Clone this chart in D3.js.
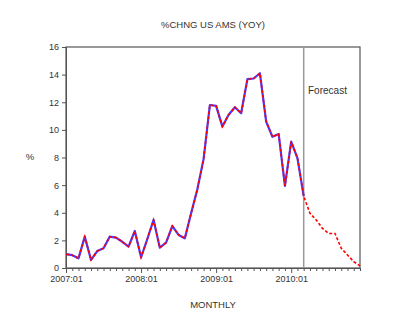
<!DOCTYPE html>
<html>
<head>
<meta charset="utf-8">
<script src="https://cdn.jsdelivr.net/npm/d3@7"></script>
<style>
  body { margin: 0; background: #fff; }
  text { font-family: "Liberation Sans", Arial, sans-serif; fill: #333; }
</style>
</head>
<body>
<div id="chart"></div>
<script>
// month index 0 = 2007:01
const actual = [1.0, 0.93, 0.7, 2.27, 0.58, 1.23, 1.43, 2.27, 2.2, 1.9, 1.55, 2.68,
  0.77, 2.1, 3.48, 1.47, 1.84, 3.04, 2.39, 2.15, 3.96, 5.7, 7.9, 11.8,
  11.74, 10.24, 11.09, 11.64, 11.2, 13.67, 13.72, 14.1, 10.6, 9.5, 9.7, 5.94,
  9.15, 7.95, 5.2];
const forecast = [5.2, 3.96, 3.48, 2.87, 2.5, 2.5, 1.43, 0.94, 0.46, 0.15];
const yTicks = [0, 2, 4, 6, 8, 10, 12, 14, 16];
const xTickLabels = ["2007:01", "2008:01", "2009:01", "2010:01"];
const forecastStart = 38;

const width = 400, height = 332;
const margin = { left: 66, right: 40, top: 47, bottom: 64 };

const svg = d3.select("#chart").append("svg")
  .attr("width", width).attr("height", height);

const x = d3.scaleLinear().domain([0, 47]).range([margin.left, width - margin.right]);
const y = d3.scaleLinear().domain([0, 16]).range([height - margin.bottom, margin.top]);

// frame
svg.append("rect")
  .attr("x", x(0)).attr("y", y(16))
  .attr("width", x(47) - x(0)).attr("height", y(0) - y(16))
  .attr("fill", "none").attr("stroke", "#555").attr("stroke-width", 1.2);

// y axis
const yAxis = svg.append("g")
  .attr("transform", `translate(${x(0)},0)`)
  .call(d3.axisLeft(y).tickValues(yTicks).tickSize(4).tickPadding(3));
yAxis.select(".domain").attr("stroke", "#555");
yAxis.selectAll("line").attr("stroke", "#555");
yAxis.selectAll("text").style("font-size", "9px").attr("fill", "#333");

// x axis with monthly ticks
const xAxis = svg.append("g")
  .attr("transform", `translate(0,${y(0)})`)
  .call(d3.axisBottom(x).tickValues(d3.range(0, 48)).tickSize(3)
    .tickFormat(d => d % 12 === 0 ? xTickLabels[d / 12] : ""));
xAxis.select(".domain").attr("stroke", "#555");
xAxis.selectAll("line").attr("stroke", "#555");
xAxis.selectAll(".tick").filter(d => d % 12 === 0).select("line").attr("y2", 5);
xAxis.selectAll("text").style("font-size", "9px").attr("fill", "#333").attr("dy", "0.9em");

// forecast divider
svg.append("line")
  .attr("x1", x(forecastStart)).attr("x2", x(forecastStart))
  .attr("y1", y(16)).attr("y2", y(0))
  .attr("stroke", "#999").attr("stroke-width", 1.5);

svg.append("text")
  .attr("x", x(41.8)).attr("y", y(12.6))
  .attr("text-anchor", "middle")
  .style("font-size", "10px")
  .text("Forecast");

const line = d3.line().x(d => x(d[0])).y(d => y(d[1]));
const actualPts = actual.map((v, i) => [i, v]);
const fcPts = forecast.map((v, i) => [forecastStart + i, v]);

svg.append("path")
  .datum(actualPts)
  .attr("d", line)
  .attr("fill", "none").attr("stroke", "#4a3cff").attr("stroke-width", 2.2)
  .attr("stroke-linejoin", "round");

svg.append("path")
  .datum(actualPts.concat(fcPts.slice(1)))
  .attr("d", line)
  .attr("fill", "none").attr("stroke", "#ff0000").attr("stroke-width", 1.6)
  .attr("stroke-dasharray", "3,2");

// titles
svg.append("text")
  .attr("x", 213).attr("y", 28)
  .attr("text-anchor", "middle")
  .style("font-size", "9.5px")
  .text("%CHNG US AMS (YOY)");

svg.append("text")
  .attr("x", 213).attr("y", 308)
  .attr("text-anchor", "middle")
  .style("font-size", "9.5px")
  .text("MONTHLY");

svg.append("text")
  .attr("x", 30).attr("y", 160)
  .attr("text-anchor", "middle")
  .style("font-size", "9.5px")
  .text("%");
</script>
</body>
</html>
